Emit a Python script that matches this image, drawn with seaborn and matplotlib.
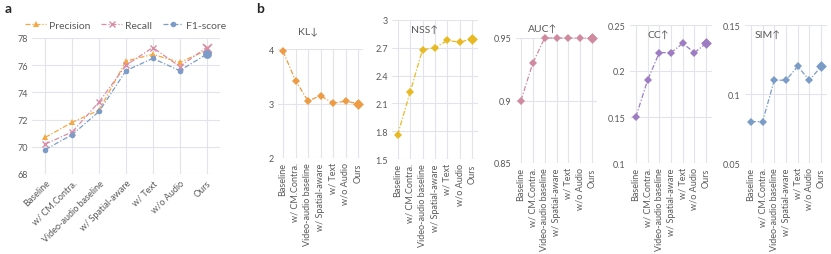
import matplotlib
matplotlib.use("Agg")
import matplotlib.pyplot as plt
import seaborn as sns
import pandas as pd
import numpy as np

categories = ["Baseline", "w/ CM.Contra.", "Video-audio baseline", "w/ Spatial-aware",
              "w/ Text", "w/o Audio", "Ours"]

precision = [70.7, 71.8, 72.7, 76.3, 76.8, 76.2, 77.1]
recall = [70.2, 71.1, 73.3, 76.0, 77.3, 75.9, 77.3]
f1_score = [69.8, 70.9, 72.6, 75.6, 76.5, 75.6, 76.8]

kl = [3.96, 3.42, 3.05, 3.14, 3.01, 3.04, 3.00]
nss = [1.76, 2.22, 2.68, 2.70, 2.78, 2.76, 2.80]
auc = [0.90, 0.93, 0.95, 0.95, 0.95, 0.95, 0.95]
cc = [0.15, 0.19, 0.22, 0.22, 0.23, 0.22, 0.23]
sim = [0.08, 0.08, 0.11, 0.11, 0.12, 0.11, 0.12]

sns.set_theme(style="white")
plt.rcParams['font.family'] = ['Lato', 'DejaVu Sans']

W, H = 831, 255
fig = plt.figure(figsize=(W / 100, H / 100), dpi=100)

GRID = "#e3e3ea"
TXT = "#595959"


def box(x0, y0, x1, y1):
    return [x0 / W, 1 - y1 / H, (x1 - x0) / W, (y1 - y0) / H]


def style(ax, yticks, ylabels, xlim, ylim, rot, fs):
    ax.set_xlim(*xlim)
    ax.set_ylim(*ylim)
    ax.set_yticks(yticks)
    ax.set_yticklabels(ylabels, color=TXT, fontsize=fs)
    ax.set_xticks(range(len(categories)))
    if rot == 45:
        ax.set_xticklabels(categories, rotation=45, ha="right", rotation_mode="anchor",
                           color=TXT, fontsize=fs)
    else:
        ax.set_xticklabels(categories, rotation=90, ha="center", va="top",
                           color=TXT, fontsize=fs)
    ax.grid(True, color=GRID, linewidth=0.8)
    ax.set_axisbelow(True)
    for s in ax.spines.values():
        s.set_visible(False)
    ax.tick_params(axis="both", length=0, pad=3)
    ax.set_xlabel("")
    ax.set_ylabel("")


# Panel a
xs = np.arange(len(categories))
axa = fig.add_axes(box(32, 39, 220, 175))
series = [("Precision", precision, "#f4a742", "^", 4),
          ("Recall", recall, "#d88da6", "x", 4),
          ("F1-score", f1_score, "#7b9cc8", "o", 4)]
for name, vals, col, mk, ms in series:
    df = pd.DataFrame({"x": xs, "y": vals})
    sns.lineplot(data=df, x="x", y="y", ax=axa, color=col, linestyle=(0, (4, 1.5, 1, 1.5)),
                 linewidth=0.9, marker=mk, markersize=ms, markeredgecolor=col,
                 markeredgewidth=1.0 if mk == "x" else 0, label=name, clip_on=False)
    sns.scatterplot(x=[xs[-1]], y=[vals[-1]], ax=axa, color=col, marker=mk,
                    s=40, linewidth=1.2 if mk == "x" else 0, edgecolor=col, legend=False,
                    clip_on=False, zorder=5)
style(axa, [68, 70, 72, 74, 76, 78], ["68", "70", "72", "74", "76", "78"],
      (-0.5, 6.5), (68, 78), 45, 6.5)
axa.legend(loc="lower center", bbox_to_anchor=(0.5, 1.03), ncol=3, frameon=False,
           fontsize=7.5, handlelength=2.0, columnspacing=1.0, handletextpad=0.3,
           labelcolor=TXT, borderaxespad=0)

# Panel b
panels = [
    ("KL↓", kl, "#ee9b45", (278, 50, 363, 159), (2, 4), [2, 3, 4], ["2", "3", "4"],
     (-0.4, 6.4), (308, 32)),
    ("NSS↑", nss, "#e8b923", (392, 21, 478, 160), (1.5, 3.0),
     [1.5, 1.8, 2.1, 2.4, 2.7, 3.0], ["1.5", "1.8", "2.1", "2.4", "2.7", "3"],
     (-0.45, 6.45), (425, 30)),
    ("AUC↑", auc, "#cf8aa0", (516, 39, 597, 164), (0.85, 0.95),
     [0.85, 0.9, 0.95], ["0.85", "0.9", "0.95"], (-0.42, 6.42), (543, 29)),
    ("CC↑", cc, "#9d7cc3", (630, 26, 712, 164), (0.1, 0.25),
     [0.1, 0.15, 0.2, 0.25], ["0.1", "0.15", "0.2", "0.25"], (-0.5, 6.5), (658, 35)),
    ("SIM↑", sim, "#7c9cc8", (745, 26, 827, 164), (0.05, 0.15),
     [0.05, 0.1, 0.15], ["0.05", "0.1", "0.15"], (-0.5, 6.5), (768, 35)),
]
for title, vals, col, bx, ylim, yt, yl, xlim, tpos in panels:
    ax = fig.add_axes(box(*bx))
    df = pd.DataFrame({"x": xs, "y": vals})
    sns.lineplot(data=df, x="x", y="y", ax=ax, color=col, linestyle=(0, (4, 1.5, 1, 1.5)),
                 linewidth=0.9, marker="D", markersize=4, markeredgewidth=0, clip_on=False)
    sns.scatterplot(x=[xs[-1]], y=[vals[-1]], ax=ax, color=col, marker="D", s=30,
                    linewidth=0, legend=False, clip_on=False, zorder=5)
    style(ax, yt, yl, xlim, ylim, 90, 6.5)
    fig.text(tpos[0] / W, 1 - tpos[1] / H, title, ha="center", va="center",
             fontsize=7.5, color=TXT, family=['Lato', 'DejaVu Sans'])

fig.text(5 / W, 1 - 9 / H, "a", fontsize=10, fontweight="bold", ha="left", va="center")
fig.text(256 / W, 1 - 9 / H, "b", fontsize=10, fontweight="bold", ha="left", va="center")

fig.savefig("out.png", dpi=100)
